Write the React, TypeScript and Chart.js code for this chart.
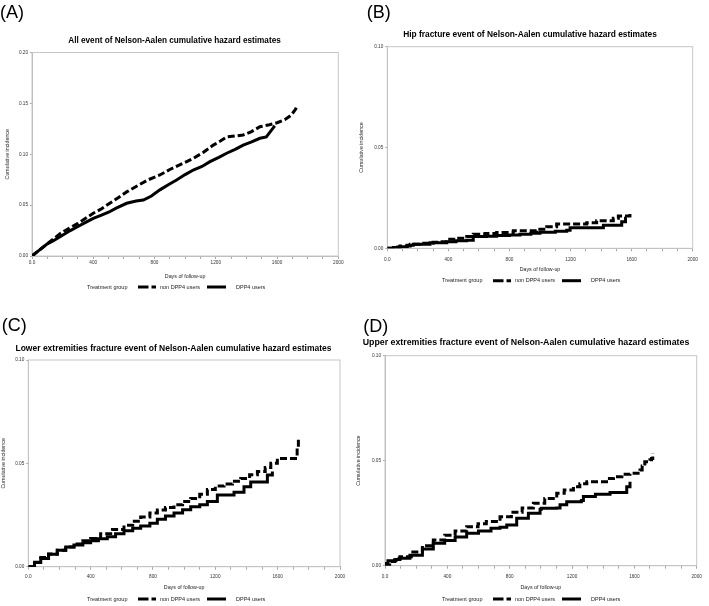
import React, { useEffect, useRef } from 'react';
import { Chart, registerables } from 'chart.js';
Chart.register(...registerables);

const FONT = '"Liberation Sans", Arial, Helvetica, sans-serif';

// ---------- text ----------
const panelTags = ['(A)', '(B)', '(C)', '(D)'];
const panelTitles = [
  'All event of Nelson-Aalen cumulative hazard estimates',
  'Hip fracture event of Nelson-Aalen cumulative hazard estimates',
  'Lower extremities fracture event of Nelson-Aalen cumulative hazard estimates',
  'Upper extremities fracture event of Nelson-Aalen cumulative hazard estimates',
];
const seriesNames = ['non DPP4 users', 'DPP4 users'];
const legendTitle = 'Treatment group';
const xAxisTitle = 'Days of follow-up';
const yAxisTitle = 'Cumulative incidence';

// ---------- axes ----------
const xMin = 0;
const xMax = 2000;
const xLabelStep = 400;
const xMinorStep = 100;
const yMaxes = [0.2, 0.1, 0.1, 0.1];
const yStep = 0.05;

// ---------- (A) all events ----------
const allNonDays = [0, 50, 100, 150, 183, 250, 300, 350, 400, 450, 500, 550, 618, 700, 760, 835, 900, 1000, 1053, 1120, 1184, 1230, 1271, 1330, 1379, 1430, 1488, 1550, 1600, 1650, 1680, 1700, 1720, 1732];
const allNonVals = [0, 0.006, 0.012, 0.018, 0.022, 0.028, 0.032, 0.037, 0.042, 0.046, 0.051, 0.056, 0.063, 0.07, 0.075, 0.0796, 0.085, 0.092, 0.096, 0.102, 0.109, 0.113, 0.117, 0.118, 0.119, 0.122, 0.127, 0.129, 0.131, 0.134, 0.137, 0.14, 0.144, 0.148];
const allDppDays = [0, 25, 50, 75, 100, 140, 183, 250, 300, 350, 400, 450, 500, 550, 618, 680, 727, 780, 835, 890, 944, 1000, 1053, 1110, 1162, 1220, 1271, 1330, 1379, 1430, 1488, 1530, 1545, 1560, 1575, 1585];
const allDppVals = [0, 0.003, 0.006, 0.009, 0.012, 0.015, 0.019, 0.025, 0.029, 0.033, 0.037, 0.04, 0.043, 0.047, 0.0518, 0.054, 0.055, 0.059, 0.065, 0.07, 0.0747, 0.08, 0.0845, 0.088, 0.0927, 0.097, 0.101, 0.105, 0.109, 0.112, 0.1157, 0.117, 0.12, 0.123, 0.126, 0.128];

// ---------- (B) hip fracture ----------
const hipNonDays = [0, 40, 83, 150, 214, 300, 345, 389, 450, 520, 563, 640, 716, 825, 978, 1044, 1109, 1306, 1371, 1480, 1513, 1589];
const hipNonVals = [0, 0.0006, 0.0012, 0.002, 0.0025, 0.003, 0.0033, 0.0045, 0.005, 0.0058, 0.007, 0.0074, 0.0078, 0.0087, 0.0094, 0.0107, 0.012, 0.0127, 0.0137, 0.0149, 0.016, 0.0173];
const hipDppDays = [0, 40, 83, 130, 170, 280, 389, 450, 520, 563, 650, 716, 800, 869, 940, 1000, 1100, 1175, 1197, 1415, 1535, 1560, 1568];
const hipDppVals = [0, 0.0004, 0.0008, 0.0015, 0.002, 0.0028, 0.0033, 0.0037, 0.004, 0.0058, 0.006, 0.0063, 0.0066, 0.007, 0.0075, 0.008, 0.0085, 0.009, 0.0102, 0.0114, 0.0132, 0.0149, 0.0149];

// ---------- (C) lower extremities ----------
const lowNonDays = [0, 40, 80, 130, 186, 240, 293, 350, 400, 464, 540, 614, 670, 721, 780, 828, 880, 935, 990, 1042, 1100, 1149, 1200, 1256, 1310, 1363, 1420, 1470, 1520, 1556, 1598, 1712, 1725, 1733];
const lowNonVals = [0, 0.0022, 0.0045, 0.0062, 0.008, 0.0095, 0.011, 0.0125, 0.0137, 0.016, 0.018, 0.02, 0.022, 0.024, 0.026, 0.0274, 0.0287, 0.03, 0.0315, 0.033, 0.035, 0.0374, 0.039, 0.04, 0.0413, 0.0427, 0.0445, 0.046, 0.048, 0.05, 0.0524, 0.0524, 0.058, 0.0629];
const lowDppDays = [0, 40, 80, 130, 186, 240, 293, 350, 400, 450, 507, 560, 614, 670, 721, 780, 828, 880, 935, 990, 1042, 1100, 1149, 1213, 1320, 1384, 1427, 1534, 1566];
const lowDppVals = [0, 0.002, 0.004, 0.006, 0.008, 0.0095, 0.0105, 0.0116, 0.0126, 0.0135, 0.0145, 0.016, 0.0174, 0.0186, 0.0197, 0.021, 0.023, 0.0245, 0.026, 0.0275, 0.029, 0.03, 0.0315, 0.0347, 0.036, 0.0387, 0.041, 0.0444, 0.046];

// ---------- (D) upper extremities ----------
const upNonDays = [0, 30, 62, 96, 169, 240, 310, 383, 450, 524, 597, 650, 738, 811, 880, 952, 1025, 1102, 1150, 1209, 1250, 1295, 1402, 1440, 1466, 1520, 1572, 1636, 1650, 1667, 1700, 1710, 1718];
const upNonVals = [0, 0.002, 0.0035, 0.0043, 0.0065, 0.0095, 0.0122, 0.0145, 0.0165, 0.0186, 0.02, 0.021, 0.0233, 0.0255, 0.0275, 0.0297, 0.032, 0.0345, 0.036, 0.0376, 0.039, 0.04, 0.04, 0.0415, 0.0424, 0.0435, 0.044, 0.0456, 0.0475, 0.0495, 0.0505, 0.051, 0.0535];
const upDppDays = [0, 19, 70, 96, 160, 240, 310, 383, 450, 524, 600, 680, 738, 781, 845, 920, 995, 1003, 1100, 1123, 1166, 1260, 1273, 1350, 1444, 1530, 1551, 1572];
const upDppVals = [0.001, 0.0024, 0.003, 0.0035, 0.005, 0.008, 0.0107, 0.012, 0.0137, 0.0154, 0.0165, 0.0178, 0.0183, 0.0194, 0.0226, 0.025, 0.0269, 0.0273, 0.0275, 0.029, 0.0305, 0.031, 0.0329, 0.034, 0.0348, 0.0348, 0.0376, 0.04];

const nonSeries = [
  [allNonDays, allNonVals],
  [hipNonDays, hipNonVals],
  [lowNonDays, lowNonVals],
  [upNonDays, upNonVals],
];
const dppSeries = [
  [allDppDays, allDppVals],
  [hipDppDays, hipDppVals],
  [lowDppDays, lowDppVals],
  [upDppDays, upDppVals],
];
const steppedPanels = [false, true, true, true];

// ---------- layout (styling only) ----------
type Layout = {
  left: number; top: number;
  plotL: number; plotR: number; plotT: number; plotB: number;
  titleX: number; titleY: number; titleSize: number;
  tickY: number; axisTitleY: number; yTitleX: number;
  legendY: number; tagX: number; tagY: number;
};
const layouts: Layout[] = [
  { left: 0, top: 0, plotL: 32, plotR: 338.3, plotT: 52.5, plotB: 256, titleX: 174.5, titleY: 41, titleSize: 8.2, tickY: 262.5, axisTitleY: 276.5, yTitleX: 8, legendY: 287, tagX: 0, tagY: 3 },
  { left: 355, top: 0, plotL: 32.3, plotR: 337.7, plotT: 46.7, plotB: 248.3, titleX: 175, titleY: 34.3, titleSize: 8.4, tickY: 259.3, axisTitleY: 269.3, yTitleX: 6.7, legendY: 280.7, tagX: 11.7, tagY: 3 },
  { left: 0, top: 300, plotL: 28.3, plotR: 340, plotT: 60, plotB: 266.7, titleX: 173.5, titleY: 48.3, titleSize: 8.5, tickY: 276.7, axisTitleY: 287.3, yTitleX: 4, legendY: 299, tagX: 1.7, tagY: 15.5 },
  { left: 355, top: 300, plotL: 30, plotR: 341.7, plotT: 55.7, plotB: 265.7, titleX: 171, titleY: 42.7, titleSize: 8.8, tickY: 276.7, axisTitleY: 287.3, yTitleX: 3.2, legendY: 299, tagX: 8.3, tagY: 17 },
];

const PANEL_W = 354;
const TICK_SIZE = 4.7;
const AXIS_TITLE_SIZE = 5.3;
const LEGEND_SIZE = 5.5;
const LH = 1.2;

const framePlugin = {
  id: 'plotFrame',
  beforeDatasetsDraw(chart: any) {
    const { ctx, chartArea: a } = chart;
    ctx.save();
    ctx.strokeStyle = '#c6c6c6';
    ctx.lineWidth = 1;
    ctx.strokeRect(a.left, a.top, a.right - a.left, a.bottom - a.top);
    ctx.restore();
  },
};

// legend in SAS style: "Treatment group  - - label  ___ label", drawn from the datasets
const treatmentLegend = {
  id: 'treatmentLegend',
  afterDraw(chart: any, _args: any, opts: any) {
    const { ctx } = chart;
    const y = opts.y;
    const ds = chart.data.datasets;
    ctx.save();
    ctx.font = `${LEGEND_SIZE}px ${FONT}`;
    ctx.textBaseline = 'middle';
    ctx.textAlign = 'left';
    ctx.fillStyle = '#222';
    ctx.fillText(opts.title, 87, y);
    ctx.strokeStyle = '#000';
    ctx.lineWidth = 3;
    ctx.lineCap = 'butt';
    ctx.setLineDash([10.5, 3]);
    ctx.beginPath();
    ctx.moveTo(138, y);
    ctx.lineTo(156, y);
    ctx.stroke();
    ctx.fillText(ds[0].label, 160, y);
    ctx.setLineDash([]);
    ctx.beginPath();
    ctx.moveTo(207, y);
    ctx.lineTo(226, y);
    ctx.stroke();
    ctx.fillText(ds[1].label, 236, y);
    ctx.restore();
  },
};

function toPoints(days: number[], vals: number[]) {
  return days.map((d, i) => ({ x: d, y: vals[i] }));
}

function Panel({ idx }: { idx: number }) {
  const ref = useRef<HTMLCanvasElement>(null);
  const L = layouts[idx];
  const H = Math.ceil(L.legendY + 6);

  useEffect(() => {
    const titleLH = L.titleSize * LH;
    const tickLH = TICK_SIZE * LH;
    const axLH = AXIS_TITLE_SIZE * LH;
    const tickLen = 3;
    const axisBottom = L.axisTitleY + axLH / 2;
    // left padding chosen so the full-width title is centred where the reference has it
    const padL = Math.max(0, 2 * L.titleX - L.plotR);
    const chart = new Chart(ref.current as HTMLCanvasElement, {
      type: 'line',
      data: {
        datasets: [
          {
            label: seriesNames[0],
            data: toPoints(nonSeries[idx][0], nonSeries[idx][1]),
            borderColor: '#000',
            backgroundColor: '#000',
            borderWidth: 3,
            borderDash: [7, 3],
            stepped: steppedPanels[idx],
            pointRadius: 0,
            fill: false,
          },
          {
            label: seriesNames[1],
            data: toPoints(dppSeries[idx][0], dppSeries[idx][1]),
            borderColor: '#000',
            backgroundColor: '#000',
            borderWidth: 3,
            stepped: steppedPanels[idx],
            pointRadius: 0,
            fill: false,
          },
        ],
      },
      options: {
        responsive: false,
        maintainAspectRatio: false,
        animation: false,
        events: [],
        layout: { padding: { left: padL, top: 0, bottom: H - axisBottom, right: PANEL_W - L.plotR } },
        plugins: {
          legend: { display: false },
          tooltip: { enabled: false },
          treatmentLegend: { y: L.legendY, title: legendTitle },
          title: {
            display: true,
            text: panelTitles[idx],
            color: '#000',
            font: { family: FONT, size: L.titleSize, weight: 'bold', lineHeight: LH },
            padding: { top: L.titleY - titleLH / 2, bottom: L.plotT - L.titleY - titleLH / 2 },
          },
        },
        scales: {
          x: {
            type: 'linear',
            min: xMin,
            max: xMax,
            afterFit: (s: any) => { s.height = axisBottom - L.plotB; },
            ticks: {
              stepSize: xMinorStep,
              autoSkip: false,
              maxRotation: 0,
              minRotation: 0,
              color: '#333',
              font: { family: FONT, size: TICK_SIZE, lineHeight: LH },
              padding: Math.max(0, L.tickY - L.plotB - tickLen - tickLH / 2),
              callback: (v: any) => {
                const n = Number(v);
                if (n % xLabelStep !== 0) return '';
                return n === 0 ? '0.0' : String(n);
              },
            },
            grid: { drawOnChartArea: false, drawTicks: true, tickLength: tickLen, color: '#a8a8a8' },
            border: { display: true, color: '#b8b8b8' },
            title: {
              display: true,
              text: xAxisTitle,
              color: '#222',
              font: { family: FONT, size: AXIS_TITLE_SIZE, lineHeight: LH },
              padding: { top: 0, bottom: 0 },
            },
          },
          y: {
            type: 'linear',
            min: 0,
            max: yMaxes[idx],
            afterFit: (s: any) => { s.width = L.plotL - padL; },
            ticks: {
              stepSize: yStep,
              color: '#333',
              font: { family: FONT, size: TICK_SIZE, lineHeight: LH },
              padding: 2,
              callback: (v: any) => Number(v).toFixed(2),
            },
            grid: { drawOnChartArea: false, drawTicks: true, tickLength: 2, color: '#a8a8a8' },
            border: { display: true, color: '#b8b8b8' },
            title: {
              display: true,
              text: yAxisTitle,
              color: '#222',
              font: { family: FONT, size: AXIS_TITLE_SIZE, lineHeight: LH },
              padding: { top: L.yTitleX - padL - axLH / 2, bottom: 0 },
            },
          },
        },
      },
      plugins: [framePlugin, treatmentLegend],
    } as any);
    return () => chart.destroy();
  }, [idx]);

  return (
    <div style={{ position: 'absolute', left: L.left, top: L.top, width: PANEL_W, height: 306 }}>
      <canvas ref={ref} width={PANEL_W} height={H} style={{ position: 'absolute', left: 0, top: 0, width: PANEL_W, height: H }} />
      <div style={{ position: 'absolute', left: L.tagX, top: L.tagY, fontFamily: FONT, fontSize: 18, lineHeight: '18px', color: '#000' }}>
        {panelTags[idx]}
      </div>
    </div>
  );
}

export default function App() {
  return (
    <div style={{ position: 'absolute', left: 0, top: 0, width: 709, height: 606, background: '#fff', overflow: 'hidden' }}>
      {[0, 1, 2, 3].map((i) => (
        <Panel key={i} idx={i} />
      ))}
    </div>
  );
}
